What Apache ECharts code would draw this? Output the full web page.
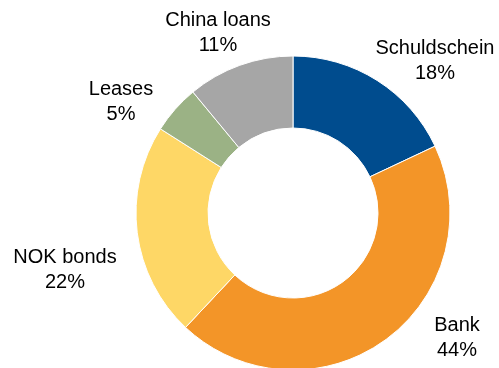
<!DOCTYPE html>
<html>
<head>
<meta charset="utf-8">
<style>
  html, body { margin: 0; padding: 0; background: #ffffff; }
  #chart { width: 499px; height: 368px; }
</style>
<script src="https://cdn.jsdelivr.net/npm/echarts@6/dist/echarts.min.js"></script>
</head>
<body>
<div id="chart"></div>
<script>
// Funding mix by source (share of total, %)
const categories = ['Schuldschein', 'Bank', 'NOK bonds', 'Leases', 'China loans'];
const shares = [18, 44, 22, 5, 11];

// Slice colours, in category order
const sliceColors = ['#004C8E', '#F39528', '#FED766', '#9BB285', '#A6A6A6'];

// Where each two-line label block is centred (px)
const labelSpots = [[435, 61], [457, 338], [65, 270], [121, 102], [218, 33]];

const chart = echarts.init(document.getElementById('chart'), null, { renderer: 'canvas' });

chart.setOption({
  animation: false,
  backgroundColor: '#ffffff',
  series: [{
    type: 'pie',
    center: [293, 213],
    radius: [85, 157],
    startAngle: 90,
    clockwise: true,
    avoidLabelOverlap: false,
    itemStyle: { borderColor: '#ffffff', borderWidth: 1 },
    label: {
      show: true,
      position: 'outside',
      formatter: '{b}\n{c}%',
      color: '#000000',
      fontFamily: '"Liberation Sans", Arial, sans-serif',
      fontSize: 20,
      lineHeight: 25,
      align: 'center'
    },
    labelLine: { show: false },
    labelLayout: function (p) {
      const s = labelSpots[p.dataIndex];
      return { x: s[0], y: s[1], align: 'center', verticalAlign: 'middle' };
    },
    emphasis: { disabled: true },
    data: categories.map(function (name, i) {
      return { name: name, value: shares[i], itemStyle: { color: sliceColors[i] } };
    })
  }]
});
</script>
</body>
</html>
